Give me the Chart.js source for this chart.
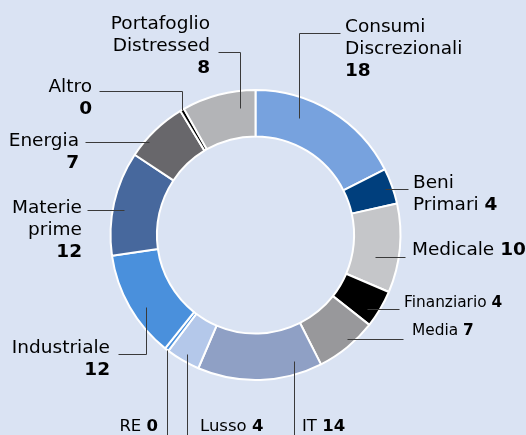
<!DOCTYPE html>
<html>
<head>
<meta charset="utf-8">
<script src="https://cdn.jsdelivr.net/npm/chart.js@4"></script>
<style>
  html, body { margin: 0; padding: 0; background: #dae3f3; }
  canvas { display: block; }
</style>
</head>
<body>
<canvas id="sectorChart" width="526" height="435"></canvas>
<script>
const sectors = ["Consumi\nDiscrezionali", "Beni\nPrimari", "Medicale", "Finanziario", "Media", "IT",
	"Lusso", "RE", "Industriale", "Materie\nprime", "Energia", "Altro", "Portafoglio\nDistressed"];
const weights = [17.5, 4.0, 9.9, 4.2, 6.9, 13.9, 3.8, 0.45, 12.0, 11.6, 7.0, 0.45, 8.2];
const sliceColors = ["#77a2de", "#003f7d", "#c5c6c9", "#000000", "#98989b", "#8fa0c5",
	"#b4c8ea", "#4a90dc", "#4a90dc", "#47689d", "#68676b", "#000000", "#b3b4b7"];

// where each callout sits: anchor inside the slice (angle fraction, ring fraction),
// leader route, text position
const callouts = [
	{ at: [0.32, 0.57], route: "vh", bend: 33, end: 340, tx: 345, ty: 27, align: "left", size: 18.5 },
	{ at: [0.51, 0.83], route: "h", end: 408, tx: 413, ty: 183, align: "left", size: 18.5, inline: true },
	{ at: [0.65, 0.49], route: "h", end: 405, tx: 412, ty: 250, align: "left", size: 18.5, inline: true },
	{ at: [0.70, 0.76], route: "h", end: 399, tx: 404, ty: 303, align: "left", size: 16, squeeze: 0.96, inline: true },
	{ at: [0.42, 0.87], route: "h", end: 403, tx: 412, ty: 331, align: "left", size: 16, squeeze: 0.96, inline: true },
	{ at: [0.20, 0.72], route: "v", bend: 435, tx: 302, ty: 427, align: "left", size: 16.5, inline: true },
	{ at: [0.50, 0.83], route: "v", bend: 435, tx: 200, ty: 427, align: "left", size: 16.5, inline: true },
	{ at: [0.50, 1.00], route: "v", bend: 435, tx: 158, ty: 427, align: "right", size: 16.5, inline: true },
	{ at: [0.42, 0.70], route: "vh", bend: 354, end: 118, tx: 110, ty: 348, align: "right", size: 18.5 },
	{ at: [0.45, 0.76], route: "h", end: 87, tx: 82, ty: 208, align: "right", size: 18.5 },
	{ at: [0.30, 0.93], route: "h", end: 85, tx: 79, ty: 141, align: "right", size: 18.5 },
	{ at: [0.50, 1.00], route: "vh", bend: 91, end: 99, tx: 92, ty: 87, align: "right", size: 18.5 },
	{ at: [0.76, 0.63], route: "vh", bend: 52, end: 218, tx: 210, ty: 24, align: "right", size: 18.5 }
];

const FONT = "'DejaVu Sans', Verdana, sans-serif";

// draw text squeezed horizontally, x is the left edge
function drawText(ctx, text, x, y, sq) {
	ctx.save();
	ctx.translate(x, y);
	ctx.scale(sq, 1);
	ctx.textAlign = "left";
	ctx.fillText(text, 0, 0);
	ctx.restore();
}

const calloutPlugin = {
	id: "callouts",
	beforeDraw(chart) {
		const ctx = chart.ctx;
		ctx.save();
		ctx.fillStyle = "#dae3f3";
		ctx.fillRect(0, 0, chart.width, chart.height);
		ctx.restore();
	},
	afterDraw(chart) {
		const ctx = chart.ctx;
		const arcs = chart.getDatasetMeta(0).data;
		ctx.save();
		arcs.forEach((arc, i) => {
			const c = callouts[i];
			const sq = c.squeeze || 1;
			const p = arc.getProps(["x", "y", "startAngle", "endAngle", "innerRadius", "outerRadius"], true);
			const a = p.startAngle + (p.endAngle - p.startAngle) * c.at[0];
			const r = p.innerRadius + (p.outerRadius - p.innerRadius) * c.at[1];
			const ax = Math.round(p.x + Math.cos(a) * r) + 0.5;
			const ay = Math.round(p.y + Math.sin(a) * r) + 0.5;

			// leader line
			ctx.strokeStyle = "#3a3a3a";
			ctx.lineWidth = 1;
			ctx.beginPath();
			ctx.moveTo(ax, ay);
			if (c.route === "h") {
				ctx.lineTo(c.end + 0.5, ay);
			} else if (c.route === "v") {
				ctx.lineTo(ax, c.bend);
			} else {
				ctx.lineTo(ax, c.bend + 0.5);
				ctx.lineTo(c.end + 0.5, c.bend + 0.5);
			}
			ctx.stroke();

			// text
			const names = sectors[i].split("\n");
			const value = String(Math.round(weights[i]));
			const lh = 22;
			const normal = c.size + "px " + FONT;
			const bold = "bold " + c.size + "px " + FONT;
			const width = (t) => ctx.measureText(t).width * sq;
			ctx.fillStyle = "#000";
			ctx.textBaseline = "middle";
			names.forEach((line, k) => {
				const y = c.ty + k * lh;
				const last = k === names.length - 1;
				ctx.font = normal;
				if (last && c.inline) {
					const wName = width(line + " ");
					ctx.font = bold;
					const wVal = width(value);
					const x0 = c.align === "left" ? c.tx : c.tx - wName - wVal;
					ctx.font = normal;
					drawText(ctx, line, x0, y, sq);
					ctx.font = bold;
					drawText(ctx, value, x0 + wName, y, sq);
				} else {
					const w = width(line);
					drawText(ctx, line, c.align === "left" ? c.tx : c.tx - w, y, sq);
				}
			});
			if (!c.inline) {
				ctx.font = bold;
				const w = width(value);
				drawText(ctx, value, c.align === "left" ? c.tx : c.tx - w, c.ty + names.length * lh, sq);
			}
		});
		ctx.restore();
	}
};

new Chart(document.getElementById("sectorChart"), {
	type: "doughnut",
	data: {
		labels: sectors,
		datasets: [{
			data: weights,
			backgroundColor: sliceColors,
			borderColor: "#ffffff",
			borderWidth: 2
		}]
	},
	options: {
		responsive: false,
		animation: false,
		cutout: "68%",
		layout: { padding: { left: 109, right: 124, top: 89, bottom: 54 } },
		plugins: {
			legend: { display: false },
			tooltip: { enabled: false }
		}
	},
	plugins: [calloutPlugin]
});
</script>
</body>
</html>
